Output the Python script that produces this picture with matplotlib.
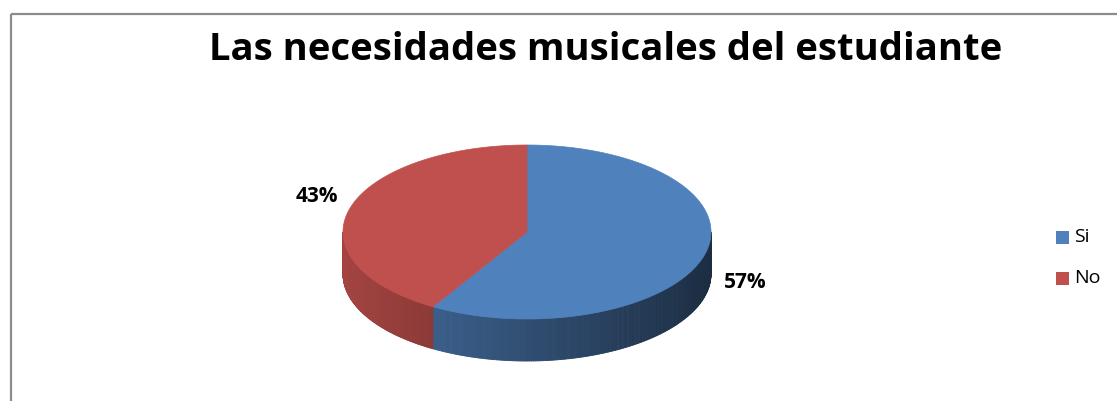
import matplotlib
matplotlib.use("Agg")
import matplotlib.pyplot as plt
import numpy as np
from matplotlib.patches import Polygon, Rectangle
from matplotlib.collections import PolyCollection

# data
categorias = ["Si", "No"]
valores = [57, 43]
etiquetas = ["57%", "43%"]
colores = ["#4F81BD", "#C0504D"]
titulo = "Las necesidades musicales del estudiante"

plt.rcParams['font.family'] = ['Open Sans', 'DejaVu Sans']

W, H = 1117, 401
fig = plt.figure(figsize=(W / 100, H / 100), dpi=100)
ax = fig.add_axes([0, 0, 1, 1])
ax.set_xlim(0, W)
ax.set_ylim(H, 0)
ax.axis('off')

# pie geometry (pixels, y down)
cx, cy = 527, 232
a, b = 184, 87
depth = 42
persp = 1.23  # front magnification, like excel's 3d perspective


def visual(theta):
    # true angle (clockwise from 12 o'clock) -> drawn angle on the ellipse
    d = np.radians(np.asarray(theta) - 180.0)
    d2 = 2 * np.arctan2(persp * np.sin(d / 2), np.cos(d / 2))
    return 180.0 + np.degrees(d2)


def punto(phi):
    t = np.radians(phi)
    return cx + a * np.sin(t), cy - b * np.cos(t)


def sombra(color, x_rel):
    rgb = np.array(matplotlib.colors.to_rgb(color))
    f = 0.6 - 0.25 * x_rel
    return tuple(rgb * f)


total = float(sum(valores))
inicio = 0.0
angulos = []
for v in valores:
    fin = inicio + 360.0 * v / total
    angulos.append((float(visual(inicio)), float(visual(fin))))
    inicio = fin

# side walls (front half only, 90..270 degrees)
for (t0, t1), col in zip(angulos, colores):
    s0, s1 = max(t0, 90), min(t1, 270)
    if s1 <= s0:
        continue
    ts = np.linspace(s0, s1, 200)
    quads = []
    cols = []
    for i in range(len(ts) - 1):
        x0, y0 = punto(ts[i])
        x1, y1 = punto(ts[i + 1])
        quads.append([(x0, y0), (x1, y1), (x1, y1 + depth), (x0, y0 + depth)])
        xm = (x0 + x1) / 2
        cols.append(sombra(col, (xm - cx) / a))
    pc = PolyCollection(quads, facecolors=cols, edgecolors=cols, linewidths=0.6)
    ax.add_collection(pc)

# top faces
for (t0, t1), col in zip(angulos, colores):
    ts = np.linspace(t0, t1, 300)
    pts = [(cx, cy)] + [punto(t) for t in ts]
    ax.add_patch(Polygon(pts, closed=True, facecolor=col, edgecolor=col, linewidth=0.5))

# labels
ax.text(745, 282, etiquetas[0], fontsize=15, fontweight='bold', ha='center', va='center')
ax.text(317, 197, etiquetas[1], fontsize=15, fontweight='bold', ha='center', va='center')

# title
ax.text(606, 50, titulo, fontsize=27.5, fontweight='bold', ha='center', va='center')

# legend
leg_y = [237, 278]
for cat, col, y in zip(categorias, colores, leg_y):
    ax.add_patch(Rectangle((1056, y - 6.5), 13, 13, facecolor=col, edgecolor='none'))
    ax.text(1074, y, cat, fontsize=14, ha='left', va='center')

# chart frame
ax.add_patch(Rectangle((11, 14), 1200, 500, facecolor='none', edgecolor='#8c8c8c',
                       linewidth=1.6, clip_on=False))

fig.savefig("out.png", dpi=100)
